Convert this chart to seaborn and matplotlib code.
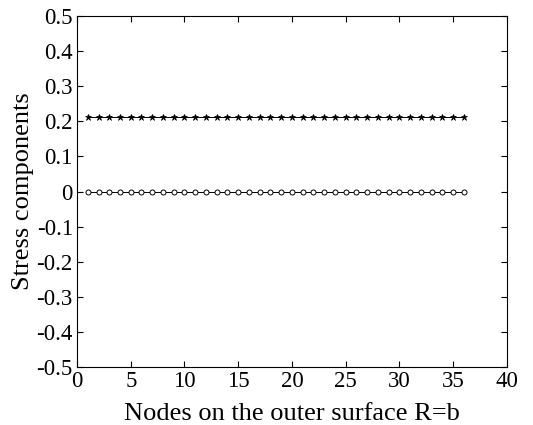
import numpy as np
import pandas as pd
import matplotlib
matplotlib.use("Agg")
import matplotlib.pyplot as plt
import seaborn as sns

nodes = list(range(1, 37))
sigma_star = [0.212] * 36
sigma_circ = [0.0] * 36
x_ticks = [0, 5, 10, 15, 20, 25, 30, 35, 40]
y_ticks = [-0.5, -0.4, -0.3, -0.2, -0.1, 0, 0.1, 0.2, 0.3, 0.4, 0.5]
y_ticklabels = ["-0.5", "-0.4", "-0.3", "-0.2", "-0.1", "0", "0.1", "0.2", "0.3", "0.4", "0.5"]

sns.set_style("ticks")
plt.rcParams['font.family'] = ['Liberation Serif', 'DejaVu Serif']
plt.rcParams['text.color'] = 'black'

df1 = pd.DataFrame({"node": nodes, "val": sigma_star})
df2 = pd.DataFrame({"node": nodes, "val": sigma_circ})

fig = plt.figure(figsize=(5.33, 4.25), dpi=100)
ax = fig.add_axes([0.1445, 0.1365, 0.8065, 0.8255])

sns.lineplot(data=df1, x="node", y="val", ax=ax, color="black", linewidth=0.7,
             marker="*", markersize=5, markerfacecolor="black", markeredgecolor="black",
             markeredgewidth=0.5)
sns.lineplot(data=df2, x="node", y="val", ax=ax, color="black", linewidth=0.7,
             marker="o", markersize=3.6, markerfacecolor="white", markeredgecolor="black",
             markeredgewidth=0.7)

ax.set_xlim(0, 40)
ax.set_ylim(-0.5, 0.5)
ax.set_xticks(x_ticks)
ax.set_xticklabels([str(t) for t in x_ticks])
ax.set_yticks(y_ticks)
ax.set_yticklabels(y_ticklabels)
ax.tick_params(direction="in", top=True, right=True, labelsize=16.5, length=4, width=0.8,
               colors="black", pad=3)
for s in ax.spines.values():
    s.set_visible(True)
    s.set_linewidth(0.8)
    s.set_color("black")
ax.set_xlabel("Nodes on the outer surface R=b", fontsize=19, labelpad=8, color="black")
ax.set_ylabel("Stress components", fontsize=19, labelpad=2, color="black")

fig.savefig("out.png", dpi=100)
